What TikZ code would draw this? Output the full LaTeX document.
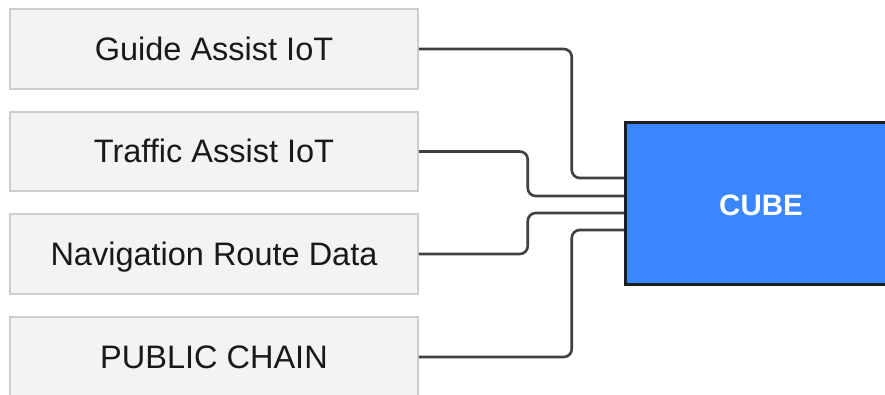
\documentclass[tikz,border=0pt]{standalone}
\usepackage{fontspec}
\setmainfont{Liberation Sans}
\definecolor{srcfill}{HTML}{F3F3F3}
\definecolor{srcline}{HTML}{CDCDCD}
\definecolor{cubefill}{HTML}{3A86FF}
\definecolor{cubeline}{HTML}{1E1E1E}
\definecolor{wirecol}{HTML}{404040}
\begin{document}
\begin{tikzpicture}[x=1pt,y=-1pt,
  source/.style={draw=srcline, line width=1.5pt, fill=srcfill,
    minimum width=408pt, inner sep=0pt, text height=23pt, text depth=0pt,
    font=\fontsize{32.5}{38}\selectfont, text=black!90},
  hub/.style={draw=cubeline, line width=3pt, fill=cubefill,
    minimum width=275pt, minimum height=161pt, inner sep=0pt},
  hublabel/.style={font=\bfseries\fontsize{29.5}{35}\selectfont, text=white,
    text height=21pt, text depth=0pt, inner sep=0pt},
  wire/.style={draw=wirecol, line width=2.6pt, rounded corners=8pt}]
\useasboundingbox (0,0) rectangle (885,395);
\fill[white] (0,0) rectangle (885,395);

% source boxes
\node[source, minimum height=80pt] (guide)   at (214,49)    {Guide Assist IoT};
\node[source, minimum height=79pt] (traffic) at (214,151.5) {Traffic Assist IoT};
\node[source, minimum height=80pt] (nav)     at (214,254)   {Navigation Route Data};
\node[source, minimum height=80pt] (chain)   at (214,357)   {PUBLIC CHAIN};

% entry points on the hub
\coordinate (in1) at (625,178);
\coordinate (in2) at (625,196);
\coordinate (in3) at (625,213);
\coordinate (in4) at (625,230);

% connectors
\draw[wire] (guide.east)   -- ++(153,0) |- (in1);
\draw[wire] (traffic.east) -- ++(109,0) |- (in2);
\draw[wire] (nav.east)     -- ++(109,0) |- (in3);
\draw[wire] (chain.east)   -- ++(153,0) |- (in4);

% hub
\node[hub] (cube) at (762.5,203.5) {};
\node[hublabel] (cubelabel) at (761,205) {CUBE};
\end{tikzpicture}
\end{document}
